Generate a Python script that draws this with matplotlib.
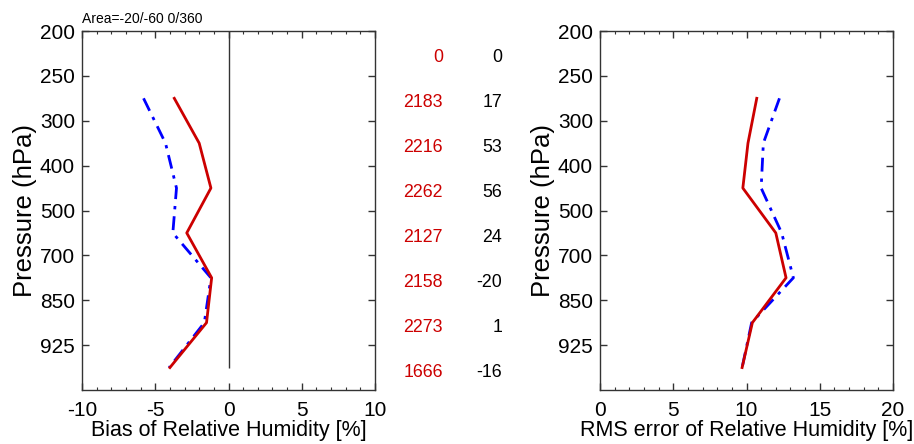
import numpy as np
import matplotlib.pyplot as plt
from matplotlib.ticker import MultipleLocator

plt.rcParams['font.family'] = ['Liberation Sans', 'DejaVu Sans']
plt.rcParams['axes.unicode_minus'] = False

levels = ['200', '250', '300', '400', '500', '700', '850', '925']
# data sit between the labelled levels
layer_pos = np.arange(1, 8) + 0.5

bias_red = [-3.7, -2.0, -1.2, -2.85, -1.15, -1.5, -4.0]
bias_blue = [-5.8, -4.3, -3.55, -3.8, -1.2, -1.65, -4.05]
rms_red = [10.7, 10.1, 9.75, 12.0, 12.7, 10.4, 9.7]
rms_blue = [12.25, 11.15, 11.0, 12.4, 13.2, 10.35, 9.7]

counts_red = [0, 2183, 2216, 2262, 2127, 2158, 2273, 1666]
counts_diff = [0, 17, 53, 56, 24, -20, 1, -16]

red = '#cc0000'
blue = '#0000ff'

fig = plt.figure(figsize=(9.14, 4.44), dpi=100)
ax1 = fig.add_axes([82 / 914, 54 / 444, 293 / 914, 359 / 444])
ax2 = fig.add_axes([600 / 914, 54 / 444, 293 / 914, 359 / 444])


def style(ax, xlim, xlabel):
    ax.set_xlim(*xlim)
    ax.set_ylim(8, 0)
    ax.set_yticks(range(len(levels)))
    ax.set_yticklabels(levels)
    ax.xaxis.set_major_locator(MultipleLocator(5))
    ax.xaxis.set_minor_locator(MultipleLocator(1))
    ax.tick_params(axis='both', which='major', direction='in', length=5,
                   width=1, labelsize=15, top=True, right=True, color='#333333')
    ax.tick_params(axis='x', which='minor', direction='in', length=2.5,
                   width=0.8, top=True, color='#333333')
    ax.tick_params(axis='x', which='major', pad=8)
    ax.tick_params(axis='y', which='major', pad=5)
    ax.set_xlabel(xlabel, fontsize=15.5, labelpad=0)
    ax.set_ylabel('Pressure (hPa)', fontsize=18.5, labelpad=2)
    for s in ax.spines.values():
        s.set_color('#333333')
        s.set_linewidth(1)


style(ax1, (-10, 10), 'Bias of Relative Humidity [%]')
style(ax2, (0, 20), 'RMS error of Relative Humidity [%]')

ax1.vlines(0, 0, 7.5, color='#333333', lw=1)
ax1.plot(bias_blue, layer_pos, color=blue, lw=2, ls=(0, (5, 2.5, 1.2, 2.5)))
ax1.plot(bias_red, layer_pos, color=red, lw=2)
ax2.plot(rms_blue, layer_pos, color=blue, lw=2, ls=(0, (5, 2.5, 1.2, 2.5)))
ax2.plot(rms_red, layer_pos, color=red, lw=2)

ax1.text(0.0, 1.015, 'Area=-20/-60 0/360', transform=ax1.transAxes,
         fontsize=10, ha='left', va='bottom')

# sample counts column between the panels
for i, (n, d) in enumerate(zip(counts_red, counts_diff)):
    yy = i + 0.6
    ax1.annotate(str(n), xy=(1, yy), xycoords=('axes fraction', 'data'),
                 xytext=(68, 0), textcoords='offset pixels',
                 ha='right', va='center', color=red, fontsize=12.8,
                 annotation_clip=False)
    ax1.annotate(str(d), xy=(1, yy), xycoords=('axes fraction', 'data'),
                 xytext=(127, 0), textcoords='offset pixels',
                 ha='right', va='center', color='black', fontsize=12.8,
                 annotation_clip=False)

fig.savefig('out.png', dpi=100)
